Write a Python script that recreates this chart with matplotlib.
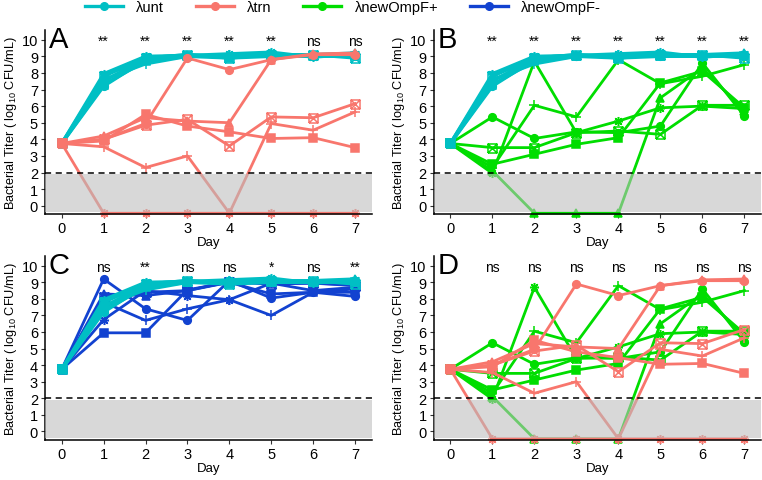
import numpy as np
import matplotlib.pyplot as plt
from matplotlib.path import Path
from matplotlib.lines import Line2D

plt.rcParams['font.family'] = ['Liberation Sans', 'DejaVu Sans']
plt.rcParams['mathtext.default'] = 'regular'

days = [0, 1, 2, 3, 4, 5, 6, 7]
FLOOR = -0.45  # below detection limit

# lambda unt (6 replicates: circle, triangle, square, plus, boxcross, asterisk)
unt = [
    [3.75, 7.2, 8.8, 9.05, 9.0, 9.05, 9.05, 9.0],
    [3.75, 7.5, 8.9, 9.1, 9.0, 9.1, 9.1, 9.2],
    [3.75, 7.3, 8.7, 9.0, 8.9, 9.0, 9.0, 9.05],
    [3.75, 7.6, 8.55, 9.0, 9.1, 9.15, 9.0, 9.1],
    [3.75, 7.8, 8.9, 9.1, 8.9, 9.1, 9.1, 8.9],
    [3.75, 7.95, 9.0, 9.05, 9.15, 9.25, 8.95, 9.15],
]
trn = [
    [3.75, 4.0, 4.95, 8.9, 8.2, 8.8, 9.1, 9.1],
    [3.75, 4.2, 5.3, 5.1, 5.0, 8.8, 9.15, 9.2],
    [3.75, 3.9, 5.5, 4.8, 4.45, 4.05, 4.1, 3.5],
    [3.75, 3.55, 2.3, 3.0, FLOOR, 4.95, 4.55, 5.65],
    [3.75, 4.0, 4.85, 5.2, 3.6, 5.35, 5.3, 6.15],
    [3.75, FLOOR, FLOOR, FLOOR, FLOOR, FLOOR, FLOOR, FLOOR],
]
ompf_pos = [
    [3.75, 5.35, 4.05, 4.45, 4.4, 4.8, 8.6, 5.4],
    [3.75, 2.1, FLOOR, FLOOR, FLOOR, 6.5, 8.3, 5.7],
    [3.75, 2.5, 3.1, 3.7, 4.1, 7.4, 8.1, 5.9],
    [3.75, 2.3, 6.05, 5.35, 8.8, 7.35, 7.8, 8.5],
    [3.75, 3.5, 3.5, 4.4, 4.5, 4.3, 6.05, 6.05],
    [3.75, 1.95, 8.7, 4.4, 5.1, 5.9, 6.0, 5.85],
]
ompf_neg = [
    [3.75, 9.2, 7.4, 6.7, 9.1, 8.05, 8.4, 8.15],
    [3.75, 8.3, 8.2, 8.5, 9.05, 8.95, 8.95, 8.85],
    [3.75, 5.95, 5.95, 8.55, 9.0, 8.3, 8.4, 8.4],
    [3.75, 7.8, 6.7, 7.4, 7.95, 7.0, 8.4, 8.6],
    [3.75, 8.1, 8.4, 8.5, 9.0, 8.9, 8.95, 8.8],
    [3.75, 6.75, 8.5, 8.2, 7.95, 8.95, 8.5, 8.7],
]

sig_A = ['**', '**', '**', '**', '**', 'ns', 'ns']
sig_B = ['**', '**', '**', '**', '**', '**', '**']
sig_C = ['ns', '**', 'ns', 'ns', '*', 'ns', '**']
sig_D = ['ns', 'ns', 'ns', 'ns', 'ns', 'ns', 'ns']

c_unt, c_trn, c_pos, c_neg = '#00BFC4', '#F8766D', '#00DD00', '#1242D0'

# square with an x inside (ggplot shape 7)
boxx = Path([(-1, -1), (1, -1), (1, 1), (-1, 1), (-1, -1), (-1, -1), (1, 1), (-1, 1), (1, -1)],
            [1, 2, 2, 2, 2, 1, 2, 1, 2])
shapes = [('o', True), ('^', True), ('s', True), ('+', False), (boxx, False), ((8, 2, 0), False)]


def draw(ax, data, col, lw=2.0):
    for y, (m, filled) in zip(data, shapes):
        ax.plot(days, y, color=col, lw=lw, marker=m, ms=5.5 if filled else 6.5,
                mfc=col if filled else 'none', mec=col, mew=1.1, clip_on=False, zorder=2)


def style(ax, letter, sig):
    ax.set_xlim(-0.4, 7.4)
    ax.set_ylim(-0.5, 10.6)
    ax.axhspan(-0.4, 1.9, color='#bdbdbd', alpha=0.58, lw=0, zorder=3)
    ax.axhline(2, color='black', ls=(0, (4, 3)), lw=1.1, zorder=4)
    ax.set_xticks(days)
    ax.set_yticks(range(0, 11))
    ax.tick_params(labelsize=10.5, length=3, color='#333333', pad=2)
    for s in ['top', 'right']:
        ax.spines[s].set_visible(False)
    ax.spines['left'].set_linewidth(1.1)
    ax.spines['bottom'].set_linewidth(1.1)
    ax.set_xlabel('Day', fontsize=9.5, labelpad=1)
    ax.set_ylabel('Bacterial Titer ( log$_{10}$ CFU/mL)', fontsize=9.2, labelpad=2)
    ax.text(0.012, 1.025, letter, transform=ax.transAxes, fontsize=21, va='top', ha='left')
    for d, s in zip(days[1:], sig):
        ax.text(d, 9.68, s, ha='center', va='baseline', fontsize=10)


fig = plt.figure(figsize=(7.62, 4.81), dpi=100)
axA = fig.add_axes([0.059, 0.553, 0.429, 0.383])
axB = fig.add_axes([0.569, 0.553, 0.430, 0.383])
axC = fig.add_axes([0.059, 0.084, 0.429, 0.382])
axD = fig.add_axes([0.569, 0.084, 0.430, 0.382])

draw(axA, unt, c_unt, lw=2.4); draw(axA, trn, c_trn)
draw(axB, ompf_pos, c_pos); draw(axB, unt, c_unt, lw=2.4)
draw(axC, ompf_neg, c_neg); draw(axC, unt, c_unt, lw=2.4)
draw(axD, ompf_pos, c_pos); draw(axD, trn, c_trn)

style(axA, 'A', sig_A); style(axB, 'B', sig_B)
style(axC, 'C', sig_C); style(axD, 'D', sig_D)

handles = [Line2D([], [], color=c, lw=2.4, marker='o', ms=5.5) for c in [c_unt, c_trn, c_pos, c_neg]]
labels = ['λunt', 'λtrn', 'λnewOmpF+', 'λnewOmpF-']
fig.legend(handles, labels, loc='center', bbox_to_anchor=(0.45, 0.983), ncol=4, frameon=False,
           fontsize=10.5, handlelength=2.6, columnspacing=2.2, handletextpad=0.9)

plt.savefig('out.png', dpi=100)
